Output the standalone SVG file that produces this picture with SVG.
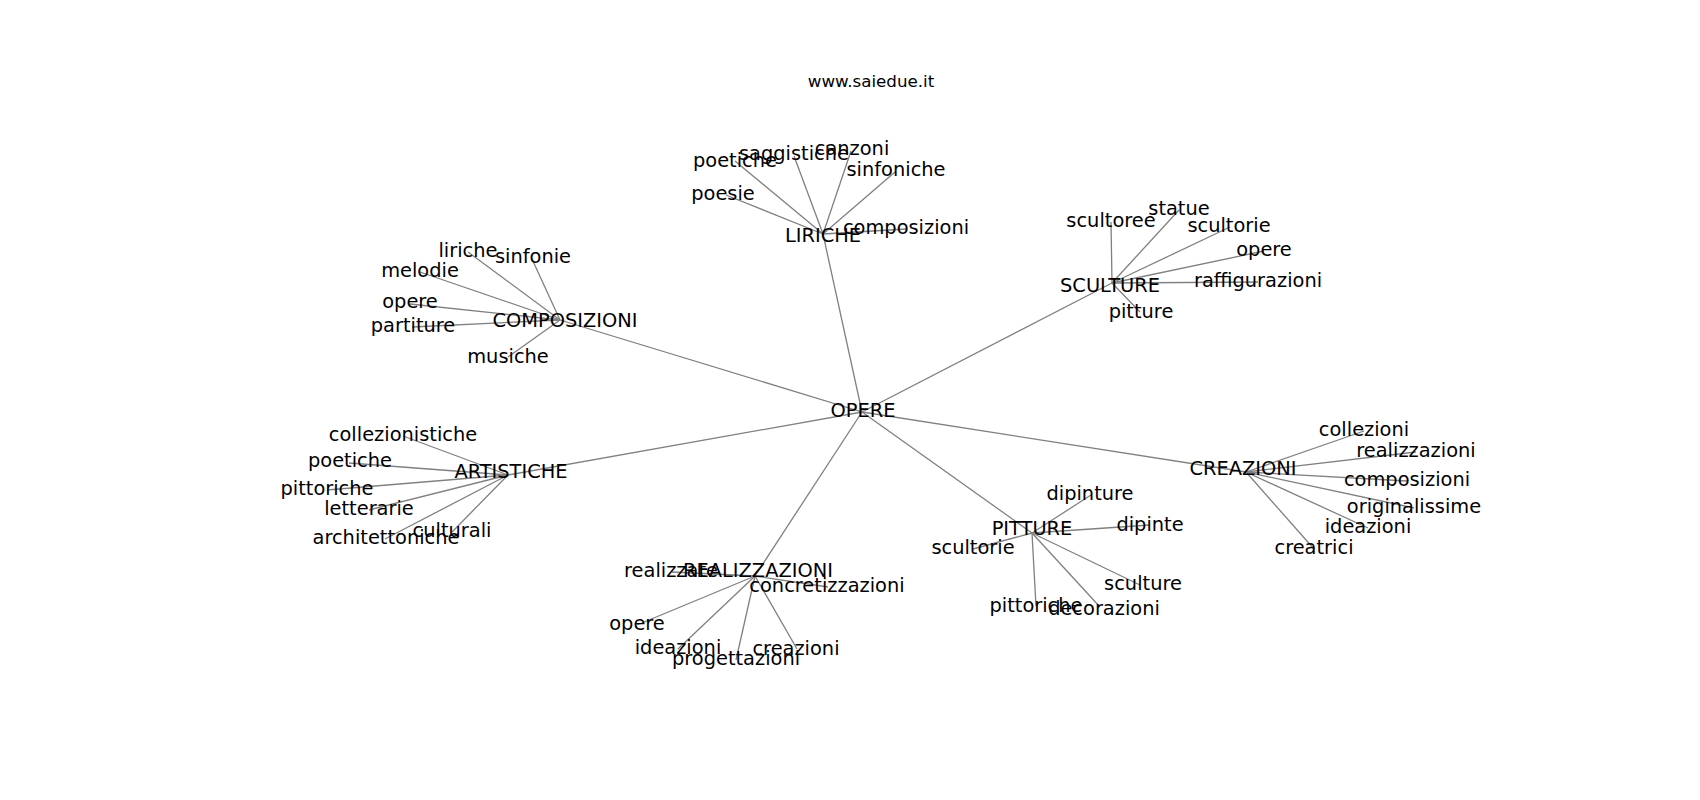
<svg xmlns="http://www.w3.org/2000/svg" width="1700" height="800" viewBox="0 0 1700 800">
<style>
text{font-family:"DejaVu Sans","Liberation Sans",sans-serif;fill:#000;text-anchor:middle}
.l{font-size:19.4px}
.t{font-size:16.7px}
#edges line{stroke:#808080;stroke-width:1.3}
</style>
<rect width="1700" height="800" fill="#fff"/>
<text class="t" x="871" y="87">www.saiedue.it</text>
<g id="edges">
<line x1="862" y1="412" x2="823" y2="234"/>
<line x1="862" y1="412" x2="560" y2="320"/>
<line x1="862" y1="412" x2="1112" y2="283"/>
<line x1="862" y1="412" x2="508" y2="475"/>
<line x1="862" y1="412" x2="755" y2="576"/>
<line x1="862" y1="412" x2="1032" y2="533"/>
<line x1="862" y1="412" x2="1246" y2="472"/>
<line x1="823" y1="234" x2="735" y2="161"/>
<line x1="823" y1="234" x2="794" y2="156"/>
<line x1="823" y1="234" x2="851" y2="151"/>
<line x1="823" y1="234" x2="895" y2="172"/>
<line x1="823" y1="234" x2="726" y2="195"/>
<line x1="823" y1="234" x2="906" y2="229"/>
<line x1="560" y1="320" x2="468" y2="252"/>
<line x1="560" y1="320" x2="532" y2="259"/>
<line x1="560" y1="320" x2="420" y2="272"/>
<line x1="560" y1="320" x2="410" y2="304"/>
<line x1="560" y1="320" x2="412" y2="327"/>
<line x1="560" y1="320" x2="508" y2="357"/>
<line x1="1112" y1="283" x2="1111" y2="222"/>
<line x1="1112" y1="283" x2="1179" y2="210"/>
<line x1="1112" y1="283" x2="1230" y2="227"/>
<line x1="1112" y1="283" x2="1264" y2="251"/>
<line x1="1112" y1="283" x2="1258" y2="282"/>
<line x1="1112" y1="283" x2="1140" y2="312"/>
<line x1="508" y1="475" x2="403" y2="436"/>
<line x1="508" y1="475" x2="349" y2="463"/>
<line x1="508" y1="475" x2="327" y2="490"/>
<line x1="508" y1="475" x2="369" y2="510"/>
<line x1="508" y1="475" x2="385" y2="539"/>
<line x1="508" y1="475" x2="452" y2="532"/>
<line x1="755" y1="576" x2="672" y2="572"/>
<line x1="755" y1="576" x2="828" y2="587"/>
<line x1="755" y1="576" x2="637" y2="625"/>
<line x1="755" y1="576" x2="678" y2="649"/>
<line x1="755" y1="576" x2="736" y2="660"/>
<line x1="755" y1="576" x2="797" y2="649"/>
<line x1="1032" y1="533" x2="1091" y2="495"/>
<line x1="1032" y1="533" x2="1150" y2="525"/>
<line x1="1032" y1="533" x2="973" y2="549"/>
<line x1="1032" y1="533" x2="1140" y2="585"/>
<line x1="1032" y1="533" x2="1036" y2="606"/>
<line x1="1032" y1="533" x2="1100" y2="607"/>
<line x1="1246" y1="472" x2="1364" y2="431"/>
<line x1="1246" y1="472" x2="1416" y2="452"/>
<line x1="1246" y1="472" x2="1407" y2="481"/>
<line x1="1246" y1="472" x2="1414" y2="508"/>
<line x1="1246" y1="472" x2="1368" y2="528"/>
<line x1="1246" y1="472" x2="1314" y2="549"/>
</g>
<g id="n-opere"><text class="l" x="863" y="417">OPERE</text></g>
<g id="n-liriche"><text class="l" x="823" y="242">LIRICHE</text></g>
<g id="n-liriche-poetiche"><text class="l" x="735" y="167">poetiche</text></g>
<g id="n-liriche-saggistiche"><text class="l" x="794" y="160">saggistiche</text></g>
<g id="n-liriche-canzoni"><text class="l" x="852" y="155">canzoni</text></g>
<g id="n-liriche-sinfoniche"><text class="l" x="896" y="176">sinfoniche</text></g>
<g id="n-liriche-poesie"><text class="l" x="723" y="200">poesie</text></g>
<g id="n-liriche-composizioni"><text class="l" x="906" y="234">composizioni</text></g>
<g id="n-composizioni"><text class="l" x="565" y="327">COMPOSIZIONI</text></g>
<g id="n-comp-liriche"><text class="l" x="468" y="257">liriche</text></g>
<g id="n-comp-sinfonie"><text class="l" x="533" y="263">sinfonie</text></g>
<g id="n-comp-melodie"><text class="l" x="420" y="277">melodie</text></g>
<g id="n-comp-opere"><text class="l" x="410" y="308">opere</text></g>
<g id="n-comp-partiture"><text class="l" x="413" y="332">partiture</text></g>
<g id="n-comp-musiche"><text class="l" x="508" y="363">musiche</text></g>
<g id="n-sculture"><text class="l" x="1110" y="292">SCULTURE</text></g>
<g id="n-scu-scultoree"><text class="l" x="1111" y="227">scultoree</text></g>
<g id="n-scu-statue"><text class="l" x="1179" y="215">statue</text></g>
<g id="n-scu-scultorie"><text class="l" x="1229" y="232">scultorie</text></g>
<g id="n-scu-opere"><text class="l" x="1264" y="256">opere</text></g>
<g id="n-scu-raffigurazioni"><text class="l" x="1258" y="287">raffigurazioni</text></g>
<g id="n-scu-pitture"><text class="l" x="1141" y="318">pitture</text></g>
<g id="n-artistiche"><text class="l" x="511" y="478">ARTISTICHE</text></g>
<g id="n-art-collezionistiche"><text class="l" x="403" y="441">collezionistiche</text></g>
<g id="n-art-poetiche"><text class="l" x="350" y="467">poetiche</text></g>
<g id="n-art-pittoriche"><text class="l" x="327" y="495">pittoriche</text></g>
<g id="n-art-letterarie"><text class="l" x="369" y="515">letterarie</text></g>
<g id="n-art-architettoniche"><text class="l" x="386" y="544">architettoniche</text></g>
<g id="n-art-culturali"><text class="l" x="452" y="537">culturali</text></g>
<g id="n-realizzazioni"><text class="l" x="758" y="577">REALIZZAZIONI</text></g>
<g id="n-rea-realizzate"><text class="l" x="671" y="577">realizzate</text></g>
<g id="n-rea-concretizzazioni"><text class="l" x="827" y="592">concretizzazioni</text></g>
<g id="n-rea-opere"><text class="l" x="637" y="630">opere</text></g>
<g id="n-rea-ideazioni"><text class="l" x="678" y="654">ideazioni</text></g>
<g id="n-rea-progettazioni"><text class="l" x="736" y="665">progettazioni</text></g>
<g id="n-rea-creazioni"><text class="l" x="796" y="655">creazioni</text></g>
<g id="n-pitture"><text class="l" x="1032" y="535">PITTURE</text></g>
<g id="n-pit-dipinture"><text class="l" x="1090" y="500">dipinture</text></g>
<g id="n-pit-dipinte"><text class="l" x="1150" y="531">dipinte</text></g>
<g id="n-pit-scultorie"><text class="l" x="973" y="554">scultorie</text></g>
<g id="n-pit-sculture"><text class="l" x="1143" y="590">sculture</text></g>
<g id="n-pit-pittoriche"><text class="l" x="1036" y="612">pittoriche</text></g>
<g id="n-pit-decorazioni"><text class="l" x="1104" y="615">decorazioni</text></g>
<g id="n-creazioni"><text class="l" x="1243" y="475">CREAZIONI</text></g>
<g id="n-cre-collezioni"><text class="l" x="1364" y="436">collezioni</text></g>
<g id="n-cre-realizzazioni"><text class="l" x="1416" y="457">realizzazioni</text></g>
<g id="n-cre-composizioni"><text class="l" x="1407" y="486">composizioni</text></g>
<g id="n-cre-originalissime"><text class="l" x="1414" y="513">originalissime</text></g>
<g id="n-cre-ideazioni"><text class="l" x="1368" y="533">ideazioni</text></g>
<g id="n-cre-creatrici"><text class="l" x="1314" y="554">creatrici</text></g>
</svg>
